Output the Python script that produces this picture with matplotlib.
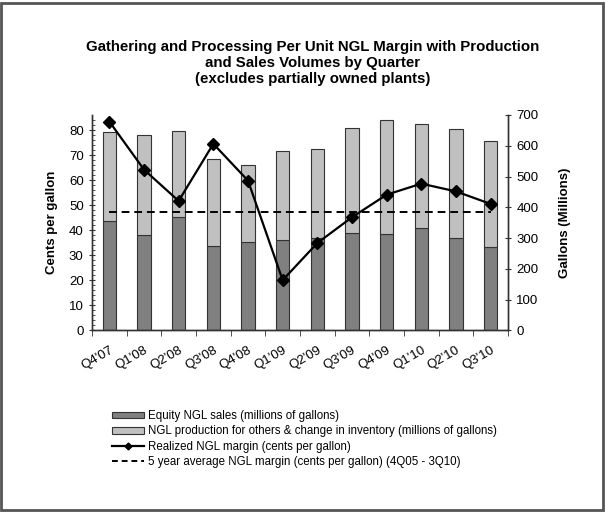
import matplotlib
matplotlib.use("Agg")
import matplotlib.pyplot as plt
from matplotlib.patches import Patch, Rectangle
from matplotlib.lines import Line2D
import numpy as np

plt.rcParams['font.family'] = ['Liberation Sans', 'DejaVu Sans']

# Data
quarters = ["Q4'07", "Q1'08", "Q2'08", "Q3'08", "Q4'08", "Q1'09",
            "Q2'09", "Q3'09", "Q4'09", "Q1'10", "Q2'10", "Q3'10"]
equity_sales = [357, 309, 370, 275, 287, 294, 300, 317, 314, 334, 302, 272]   # millions of gallons
total_volume = [646, 635, 647, 557, 539, 582, 591, 659, 685, 672, 654, 616]   # millions of gallons
realized_margin = [83.4, 64.2, 51.7, 74.5, 59.8, 20.1, 34.9, 45.2, 54.2, 58.6, 55.5, 50.5]  # cents/gal
avg_margin = [47.4] * len(quarters)

other_volume = [t - e for t, e in zip(total_volume, equity_sales)]
x = np.arange(len(quarters))

fig = plt.figure(figsize=(6.06, 5.12), dpi=100)
ax1 = fig.add_axes([0.1518, 0.3545, 0.6865, 0.4209])
ax2 = ax1.twinx()
ax1.set_zorder(ax2.get_zorder() + 1)
ax1.patch.set_visible(False)

dark = '#808080'
light = '#c0c0c0'
edge = '#333333'
w = 0.385
ax2.bar(x, equity_sales, width=w, color=dark, edgecolor=edge, linewidth=0.8)
ax2.bar(x, other_volume, width=w, bottom=equity_sales, color=light, edgecolor=edge, linewidth=0.8)

ax1.plot(x, realized_margin, color='black', linewidth=1.6, marker='D', markersize=6.5)
ax1.plot(x, avg_margin, color='black', linewidth=1.4, linestyle=(0, (4, 2.5)))

ax1.set_xlim(-0.5, len(quarters) - 0.5)
ax1.set_ylim(0, 86)
ax2.set_ylim(0, 700)
ax1.set_yticks(np.arange(0, 81, 10))
ax1.set_yticks(np.arange(0, 86, 2), minor=True)
ax2.set_yticks(np.arange(0, 701, 100))

ax1.set_xticks(x)
ax1.set_xticklabels(quarters, rotation=30, ha='right', rotation_mode='anchor', fontsize=9.5)
ax1.set_xticks(np.arange(-0.5, len(quarters), 1), minor=True)
ax1.tick_params(axis='x', which='major', length=0, pad=10)
ax1.tick_params(axis='x', which='minor', length=4, direction='out', color='#333333')
ax1.tick_params(axis='y', which='major', labelsize=9.5, length=5, direction='inout', color='#333333')
ax1.tick_params(axis='y', which='minor', length=2, direction='in', color='#333333')
ax2.tick_params(axis='y', labelsize=9.5, length=5, direction='inout', color='#333333')

for a in (ax1, ax2):
    a.spines['top'].set_visible(False)
    for s in ('left', 'right', 'bottom'):
        a.spines[s].set_color('#333333')
        a.spines[s].set_linewidth(1.0)

ax1.set_ylabel('Cents per gallon', fontsize=9.5, fontweight='bold', labelpad=8)
ax2.set_ylabel('Gallons (Millions)', fontsize=9.5, fontweight='bold', labelpad=15)

fig.text(0.516, 0.877, 'Gathering and Processing Per Unit NGL Margin with Production\n'
         'and Sales Volumes by Quarter\n(excludes partially owned plants)',
         ha='center', va='center', fontsize=10.8, fontweight='bold', linespacing=1.2)

handles = [
    Patch(facecolor=dark, edgecolor=edge, linewidth=0.8),
    Patch(facecolor=light, edgecolor=edge, linewidth=0.8),
    Line2D([], [], color='black', linewidth=1.6, marker='D', markersize=3.5),
    Line2D([], [], color='black', linewidth=1.4, linestyle=(0, (3, 2))),
]
labels = [
    'Equity NGL sales (millions of gallons)',
    'NGL production for others & change in inventory (millions of gallons)',
    'Realized NGL margin (cents per gallon)',
    '5 year average NGL margin (cents per gallon) (4Q05 - 3Q10)',
]
fig.legend(handles, labels, loc='upper left', bbox_to_anchor=(0.177, 0.208),
           frameon=False, fontsize=8.3, handlelength=2.8, handleheight=0.5,
           handletextpad=0.35, labelspacing=0.28, borderaxespad=0)

fig.patches.append(Rectangle((0.002, 0.004), 0.993, 0.99, transform=fig.transFigure,
                             fill=False, edgecolor='#555555', linewidth=2))

fig.savefig('out.png', dpi=100)
